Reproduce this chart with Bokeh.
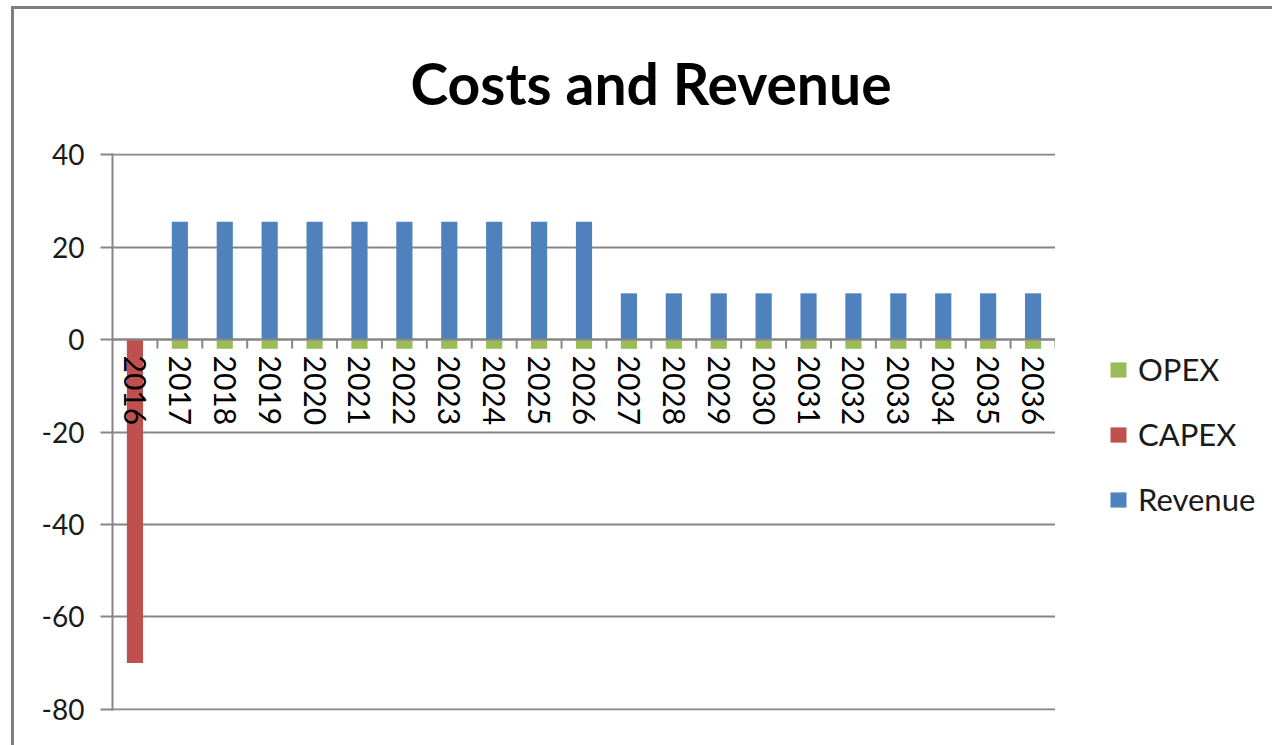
from math import pi
from bokeh.plotting import figure
from bokeh.layouts import row
from bokeh.models import (FactorRange, Range1d, Legend, LegendItem,
                          FixedTicker, ColumnDataSource)
from bokeh.embed import file_html
from bokeh.resources import INLINE

# ---- data ----
years = ["2016", "2017", "2018", "2019", "2020", "2021", "2022", "2023", "2024",
         "2025", "2026", "2027", "2028", "2029", "2030", "2031", "2032", "2033",
         "2034", "2035", "2036"]
revenue = [0, 25.5, 25.5, 25.5, 25.5, 25.5, 25.5, 25.5, 25.5, 25.5, 25.5,
           10, 10, 10, 10, 10, 10, 10, 10, 10, 10]
capex = [-70, 0, 0, 0, 0, 0, 0, 0, 0, 0, 0, 0, 0, 0, 0, 0, 0, 0, 0, 0, 0]
opex = [0, -2, -2, -2, -2, -2, -2, -2, -2, -2, -2,
        -2, -2, -2, -2, -2, -2, -2, -2, -2, -2]
y_ticks = [-80, -60, -40, -20, 0, 20, 40]
series_names = ["OPEX", "CAPEX", "Revenue"]

BLUE = "#4F81BD"
RED = "#C0504D"
GREEN = "#9BBB59"
GRID = "#868686"
FONT = "Lato"

src = ColumnDataSource(dict(year=years, revenue=revenue, capex=capex, opex=opex))

p = figure(x_range=FactorRange(*years, range_padding=0), y_range=Range1d(-80.25, 40.25),
           width=1041, height=736, output_backend="svg", toolbar_location=None,
           min_border_left=98, min_border_right=0, min_border_top=144,
           min_border_bottom=35)
p.outline_line_color = None
p.background_fill_color = "white"
p.border_fill_color = "white"

p.title.text = "Costs and Revenue"
p.title.align = "left"
p.title.offset = 298
p.title.standoff = 73
p.title.text_font = FONT
p.title.text_font_size = "57px"
p.title.text_font_style = "bold"
p.title.text_color = "#000000"

r_rev = p.vbar(x="year", top="revenue", bottom=0, width=0.36, fill_color=BLUE,
               line_color=None, source=src)
rs = p.vbar_stack(["capex", "opex"], x="year", width=0.36, fill_color=[RED, GREEN],
                  line_color=None, source=src)

# tick marks at category boundaries on the zero line
bounds = [(y, 0.5) for y in years]
p.ray(x=bounds, y=[0] * len(bounds), length=9, length_units="screen",
      angle=-pi / 2, line_color=GRID, line_width=2)

# x axis at zero
xa = p.xaxis[0]
xa.fixed_location = 0
xa.major_label_orientation = "vertical"
xa.axis_line_color = GRID
xa.axis_line_width = 2
xa.major_tick_line_color = None
xa.minor_tick_line_color = None
xa.major_label_text_font = FONT
xa.major_label_text_font_size = "30px"
xa.major_label_text_color = "#000000"
xa.major_label_standoff = 10

ya = p.yaxis[0]
ya.ticker = FixedTicker(ticks=y_ticks)
ya.major_label_overrides = {t: str(t) for t in y_ticks}
ya.axis_line_color = GRID
ya.axis_line_width = 2
ya.major_tick_line_color = GRID
ya.major_tick_line_width = 2
ya.major_tick_out = 12
ya.major_tick_in = 0
ya.minor_tick_line_color = None
ya.major_label_text_font = FONT
ya.major_label_text_font_size = "28px"
ya.major_label_text_color = "#1a1a1a"
ya.major_label_standoff = 16

p.xgrid.grid_line_color = None
p.ygrid.ticker = FixedTicker(ticks=y_ticks)
p.ygrid.grid_line_color = GRID
p.ygrid.grid_line_width = 2

# ---- legend panel (separate canvas to the right of the plot area) ----
lf = figure(width=217, height=736, x_range=Range1d(0, 1), y_range=Range1d(0, 1),
            output_backend="svg", toolbar_location=None, min_border=0)
lf.axis.visible = False
lf.grid.visible = False
lf.outline_line_color = None
lf.border_fill_color = "white"
swatches = []
for c in [GREEN, RED, BLUE]:
    # legend-only swatch renderers, kept outside the visible range
    swatches.append(lf.rect(x=[-10], y=[-10], width=1, height=1,
                            fill_color=c, line_color=None))

legend = Legend(items=[LegendItem(label=n, renderers=[r])
                       for n, r in zip(series_names, swatches)],
                location=(53, 192), margin=0, padding=0, spacing=27,
                glyph_width=20, glyph_height=19, label_standoff=10, label_height=32,
                label_text_font=FONT, label_text_font_size="31px",
                label_text_color="#1a1a1a", border_line_color=None,
                background_fill_alpha=0)
lf.add_layout(legend, "center")

layout = row(p, lf, margin=(6, 0, 0, 11),
             styles={"border-top": "3px solid #7f7f7f",
                     "border-left": "3px solid #7f7f7f"})

open("out.html", "w").write(file_html(layout, INLINE))
